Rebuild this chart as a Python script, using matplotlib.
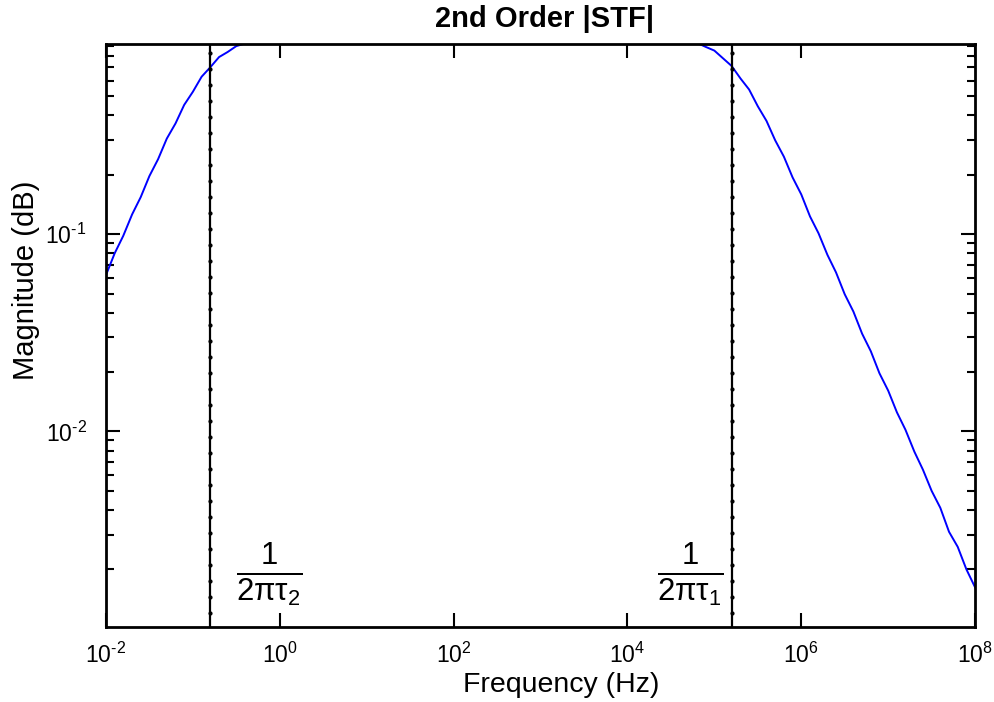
import matplotlib
matplotlib.use('Agg')
import matplotlib.pyplot as plt
from matplotlib.ticker import LogLocator, FuncFormatter, NullLocator
import numpy as np

plt.rcParams['font.family'] = ['Liberation Sans', 'DejaVu Sans']
plt.rcParams['mathtext.fontset'] = 'custom'
plt.rcParams['mathtext.rm'] = 'Liberation Sans'
plt.rcParams['mathtext.it'] = 'Liberation Sans:italic'
plt.rcParams['mathtext.default'] = 'regular'

# |STF| samples, rising edge, passband, falling edge
freq_lo = [1.0e-2, 1.26e-2, 1.58e-2, 2.0e-2, 2.51e-2, 3.16e-2, 3.98e-2, 5.01e-2,
           6.31e-2, 7.94e-2, 1.0e-1, 1.26e-1, 1.58e-1, 2.0e-1, 2.51e-1, 3.16e-1,
           3.98e-1, 5.01e-1, 6.31e-1, 7.94e-1, 1.0]
mag_lo = [0.062, 0.080, 0.098, 0.126, 0.154, 0.197, 0.240, 0.305,
          0.364, 0.452, 0.527, 0.628, 0.700, 0.790, 0.838, 0.898,
          0.925, 0.955, 0.968, 0.982, 0.988]

freq_mid = [1e1, 1e2, 1e3]
mag_mid = [0.999, 1.0, 0.999]

freq_hi = [1.0e4, 1.58e4, 2.51e4, 3.16e4, 3.98e4, 5.01e4, 6.31e4, 7.94e4,
           1.0e5, 1.26e5, 1.58e5, 2.0e5, 2.51e5, 3.16e5, 3.98e5, 5.01e5,
           6.31e5, 7.94e5, 1.0e6, 1.26e6, 1.58e6, 2.0e6, 2.51e6, 3.16e6,
           3.98e6, 5.01e6, 6.31e6, 7.94e6, 1.0e7, 1.26e7, 1.58e7, 2.0e7,
           2.51e7, 3.16e7, 3.98e7, 5.01e7, 6.31e7, 7.94e7, 1.0e8]
mag_hi = [0.998, 0.995, 0.987, 0.982, 0.968, 0.950, 0.932, 0.890,
          0.852, 0.778, 0.712, 0.615, 0.541, 0.445, 0.375, 0.299,
          0.247, 0.194, 0.159, 0.123, 0.101, 0.0785, 0.0640, 0.0496,
          0.0405, 0.0313, 0.0255, 0.0197, 0.0161, 0.0125, 0.0102, 0.0079,
          0.0064, 0.0050, 0.0041, 0.0031, 0.0026, 0.0020, 0.00162]

freq = freq_lo + freq_mid + freq_hi
mag = mag_lo + mag_mid + mag_hi

# corner frequencies 1/(2*pi*tau)
f_tau2 = 0.159
f_tau1 = 1.59e5


def pow10(v, pos):
    e = int(round(np.log10(v)))
    return r'$10^{\text{%d}}$' % e


fig = plt.figure(figsize=(9.95, 7.02), dpi=100)
ax = fig.add_axes([0.1065, 0.1068, 0.8735, 0.8305])

ax.loglog(freq, mag, color='#0000ff', lw=1.4)

ydots = np.logspace(-3, 0, 38)
for fc in (f_tau2, f_tau1):
    ax.plot([fc] * len(ydots), ydots, color='k', lw=1.6, marker='.', ms=4)

ax.set_xlim(1e-2, 1e8)
ax.set_ylim(1.02e-3, 0.92)

ax.xaxis.set_major_locator(LogLocator(base=100.0))
ax.xaxis.set_minor_locator(NullLocator())
ax.xaxis.set_major_formatter(FuncFormatter(pow10))
ax.yaxis.set_major_locator(LogLocator(base=10.0))
ax.yaxis.set_minor_locator(LogLocator(base=10.0, subs=np.arange(2, 10)))
ax.yaxis.set_major_formatter(FuncFormatter(pow10))

ax.tick_params(which='both', direction='in', top=True, right=True, width=1.5,
               labelsize=16.5)
ax.tick_params(axis='x', pad=11)
ax.tick_params(axis='y', pad=14)
ax.tick_params(which='major', length=10)
ax.tick_params(which='minor', length=6)
for s in ax.spines.values():
    s.set_linewidth(2)

ax.text(0.75, 0.00188, r'$\frac{1}{2\pi\tau_2}$', fontsize=32, ha='center', va='center')
ax.text(5.3e4, 0.00188, r'$\frac{1}{2\pi\tau_1}$', fontsize=32, ha='center', va='center')

ax.set_title('2nd Order |STF|', fontsize=21, fontweight='bold', pad=12, x=0.505)
ax.set_xlabel('Frequency (Hz)', fontsize=20.5)
ax.set_ylabel('Magnitude (dB)', fontsize=21)
ax.xaxis.set_label_coords(0.524, -0.077)
ax.yaxis.set_label_coords(-0.076, 0.595)

fig.savefig('out.png', dpi=100)
